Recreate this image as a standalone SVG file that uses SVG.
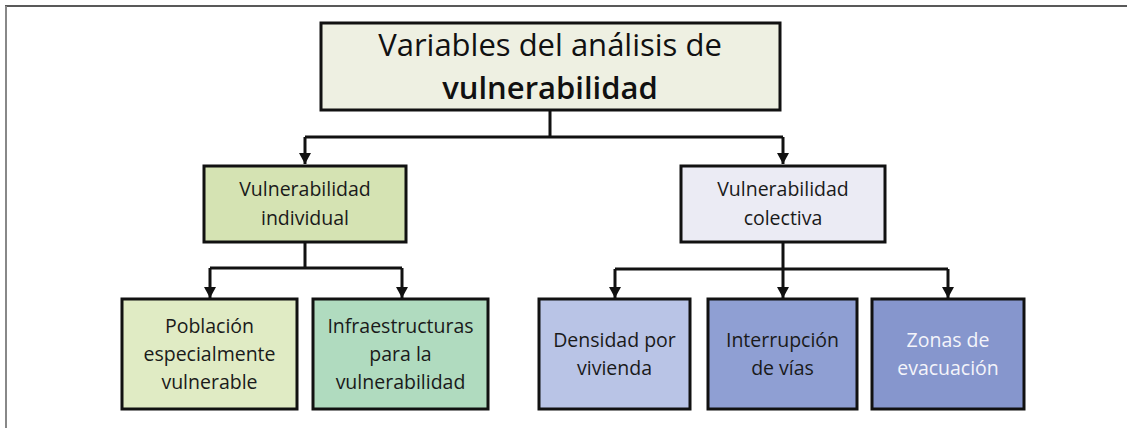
<svg xmlns="http://www.w3.org/2000/svg" width="1127" height="428" viewBox="0 0 1127 428">
<style>
  .box { stroke: #111; stroke-width: 3; }
  .t { font-family: "Open Sans", "Noto Sans", sans-serif; font-size: 19.5px; fill: #1a1a1a; text-anchor: middle; }
  .big { font-family: "Open Sans", "Noto Sans", sans-serif; font-size: 31px; fill: #111; text-anchor: middle; }
  .conn { stroke: #111; stroke-width: 3; fill: none; }
  .w { fill: #f4f4fa; }
</style>
<defs>
  <marker id="arr" markerUnits="userSpaceOnUse" markerWidth="14" markerHeight="14" refX="12" refY="7" orient="auto" viewBox="0 0 14 14">
    <path d="M1,1 L12,7 L1,13 Z" fill="#111"/>
  </marker>
</defs>
<rect width="1127" height="428" fill="#fff"/>
<g id="frame">
  <line x1="5" y1="6" x2="1127" y2="6" stroke="#222" stroke-width="1.5"/>
  <line x1="6" y1="6" x2="6" y2="428" stroke="#888" stroke-width="2"/>
</g>
<g id="connectors">
  <path class="conn" d="M550,111 V137 M305,137 H783"/>
  <path class="conn" d="M305,137 V164" marker-end="url(#arr)"/>
  <path class="conn" d="M783,137 V164" marker-end="url(#arr)"/>
  <path class="conn" d="M305,242 V268 M210,268 H402"/>
  <path class="conn" d="M210,268 V298" marker-end="url(#arr)"/>
  <path class="conn" d="M402,268 V298" marker-end="url(#arr)"/>
  <path class="conn" d="M783,242 V269 M615,269 H948"/>
  <path class="conn" d="M615,269 V298" marker-end="url(#arr)"/>
  <path class="conn" d="M783,269 V298" marker-end="url(#arr)"/>
  <path class="conn" d="M948,269 V298" marker-end="url(#arr)"/>
</g>
<g id="node-root">
  <rect class="box" x="321" y="23" width="459" height="87" fill="#eef0e2"/>
  <text class="big" x="550" y="56">Variables del análisis de</text>
  <text class="big" x="550" y="99" font-weight="600">vulnerabilidad</text>
</g>
<g id="node-individual">
  <rect class="box" x="204" y="166" width="202" height="76" fill="#d5e3b3"/>
  <text class="t" x="305" y="196">Vulnerabilidad</text>
  <text class="t" x="305" y="225">individual</text>
</g>
<g id="node-colectiva">
  <rect class="box" x="681" y="166" width="204" height="76" fill="#ebebf4"/>
  <text class="t" x="783" y="196">Vulnerabilidad</text>
  <text class="t" x="783" y="225">colectiva</text>
</g>
<g id="node-poblacion">
  <rect class="box" x="122" y="299" width="175" height="110" fill="#e0ebc4"/>
  <text class="t" x="209.5" y="333">Población</text>
  <text class="t" x="209.5" y="361">especialmente</text>
  <text class="t" x="209.5" y="389">vulnerable</text>
</g>
<g id="node-infraestructuras">
  <rect class="box" x="313" y="299" width="175" height="110" fill="#b0dbbf"/>
  <text class="t" x="400.5" y="333">Infraestructuras</text>
  <text class="t" x="400.5" y="361">para la</text>
  <text class="t" x="400.5" y="389">vulnerabilidad</text>
</g>
<g id="node-densidad">
  <rect class="box" x="539" y="299" width="151" height="110" fill="#b9c4e6"/>
  <text class="t" x="614.5" y="347">Densidad por</text>
  <text class="t" x="614.5" y="375">vivienda</text>
</g>
<g id="node-interrupcion">
  <rect class="box" x="708" y="299" width="149" height="110" fill="#8f9fd3"/>
  <text class="t" x="782.5" y="347">Interrupción</text>
  <text class="t" x="782.5" y="375">de vías</text>
</g>
<g id="node-zonas">
  <rect class="box" x="872" y="299" width="152" height="110" fill="#8696cd"/>
  <text class="t w" x="948" y="347">Zonas de</text>
  <text class="t w" x="948" y="375">evacuación</text>
</g>
</svg>
